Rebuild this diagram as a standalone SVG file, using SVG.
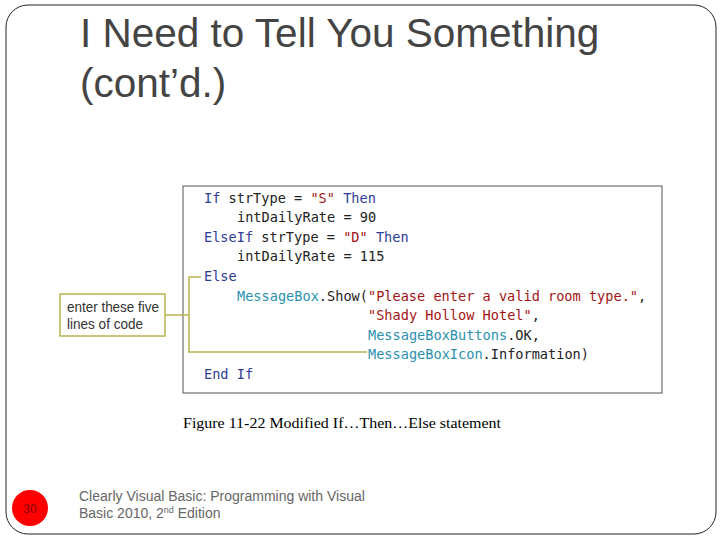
<svg xmlns="http://www.w3.org/2000/svg" width="720" height="540" viewBox="0 0 720 540">
<style>
.c{font-family:"DejaVu Sans Mono","Liberation Mono",monospace;font-size:13.6px;fill:#222}
.k{fill:#2e3d96}.s{fill:#a31515}.t{fill:#2b91af}
.ln{stroke:#b8b24e;stroke-width:1.5;fill:none}
.n{font-family:"Liberation Sans",Arial,sans-serif;font-size:14px;fill:#333}
</style>
<rect width="720" height="540" fill="#fff"/>
<rect x="6" y="5" width="710" height="529" rx="22" fill="none" stroke="#222" stroke-width="1"/>
<text x="80" y="47" font-family="Liberation Sans,Arial,sans-serif" font-size="40.5" fill="#444">I Need to Tell You Something</text>
<text x="80" y="97" font-family="Liberation Sans,Arial,sans-serif" font-size="40.5" fill="#444">(cont’d.)</text>
<g id="codebox">
<rect x="183" y="186" width="479" height="207" fill="#fff" stroke="#555" stroke-width="1"/>
<text class="c" x="204" y="203"><tspan class="k">If</tspan> strType = <tspan class="s">"S"</tspan> <tspan class="k">Then</tspan></text>
<text class="c" x="237" y="222">intDailyRate = 90</text>
<text class="c" x="204" y="242"><tspan class="k">ElseIf</tspan> strType = <tspan class="s">"D"</tspan> <tspan class="k">Then</tspan></text>
<text class="c" x="237" y="261">intDailyRate = 115</text>
<text class="c k" x="204" y="281">Else</text>
<text class="c" x="237" y="301"><tspan class="t">MessageBox</tspan>.Show(<tspan class="s">"Please enter a valid room type."</tspan>,</text>
<text class="c" x="368" y="320"><tspan class="s">"Shady Hollow Hotel"</tspan>,</text>
<text class="c" x="368" y="340"><tspan class="t">MessageBoxButtons</tspan>.OK,</text>
<text class="c" x="368" y="359"><tspan class="t">MessageBoxIcon</tspan>.Information)</text>
<text class="c k" x="204" y="379">End If</text>
</g>
<g id="connectors">
<path class="ln" d="M201 277 H189 V352 H367 M189 315 H165"/>
</g>
<g id="callout">
<rect x="60" y="294" width="105" height="42" fill="#fff" stroke="#b8b24e" stroke-width="1.5"/>
<text class="n" x="67" y="312" textLength="92" lengthAdjust="spacingAndGlyphs">enter these five</text>
<text class="n" x="67" y="329" textLength="76" lengthAdjust="spacingAndGlyphs">lines of code</text>
</g>
<text x="183" y="428" font-family="Liberation Serif,serif" font-size="14.5" fill="#000" textLength="318" lengthAdjust="spacingAndGlyphs">Figure 11-22 Modified If…Then…Else statement</text>
<g id="pagenum">
<circle cx="30" cy="508" r="18" fill="#f00"/>
<text x="30" y="513" text-anchor="middle" font-family="Liberation Sans,sans-serif" font-size="12" fill="#800">30</text>
</g>
<text x="79" y="501" font-family="Liberation Sans,sans-serif" font-size="14" fill="#666">Clearly Visual Basic: Programming with Visual</text>
<text x="79" y="518" font-family="Liberation Sans,sans-serif" font-size="14" fill="#666">Basic 2010, 2<tspan font-size="9" dy="-5">nd</tspan><tspan dy="5"> Edition</tspan></text>
</svg>
